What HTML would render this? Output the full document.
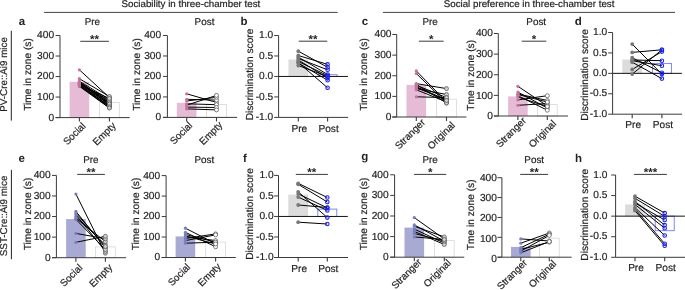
<!DOCTYPE html>
<html><head><meta charset="utf-8"><style>
html,body{margin:0;padding:0;background:#fff;}
svg{display:block;font-family:"Liberation Sans", sans-serif;will-change:transform;text-rendering:geometricPrecision;}
</style></head><body>
<svg width="685" height="290" viewBox="0 0 685 290">
<rect width="685" height="290" fill="#fff"/>
<line x1="44" y1="12.4" x2="337.7" y2="12.4" stroke="#444" stroke-width="1.0"/>
<line x1="382.9" y1="12.4" x2="675" y2="12.4" stroke="#444" stroke-width="1.0"/>
<text x="190.9" y="7.1" font-size="9.75" text-anchor="middle" font-weight="normal" fill="#231f20" stroke="#231f20" stroke-width="0.2">Sociability in three-chamber test</text>
<text x="529.1" y="7.1" font-size="9.75" text-anchor="middle" font-weight="normal" fill="#231f20" stroke="#231f20" stroke-width="0.2">Social preference in three-chamber test</text>
<text x="7.0" y="74.4" font-size="9.8" text-anchor="middle" font-weight="normal" fill="#231f20" stroke="#231f20" stroke-width="0.2" transform="rotate(-90 7.0 74.4)">PV-Cre::Ai9 mice</text>
<line x1="11.3" y1="30.8" x2="11.3" y2="120.6" stroke="#222" stroke-width="1.0"/>
<text x="7.0" y="215.9" font-size="9.8" text-anchor="middle" font-weight="normal" fill="#231f20" stroke="#231f20" stroke-width="0.2" transform="rotate(-90 7.0 215.9)">SST-Cre::Ai9 mice</text>
<line x1="11.4" y1="169.9" x2="11.4" y2="259.2" stroke="#222" stroke-width="1.0"/>
<text x="18.8" y="24.8" font-size="11.5" text-anchor="start" font-weight="bold" fill="#231f20" stroke="#231f20" stroke-width="0">a</text>
<text x="240.6" y="24.8" font-size="11.5" text-anchor="start" font-weight="bold" fill="#231f20" stroke="#231f20" stroke-width="0">b</text>
<text x="361.7" y="24.8" font-size="11.5" text-anchor="start" font-weight="bold" fill="#231f20" stroke="#231f20" stroke-width="0">c</text>
<text x="574.8" y="25" font-size="11.5" text-anchor="start" font-weight="bold" fill="#231f20" stroke="#231f20" stroke-width="0">d</text>
<text x="18.6" y="161.7" font-size="11.5" text-anchor="start" font-weight="bold" fill="#231f20" stroke="#231f20" stroke-width="0">e</text>
<text x="242.9" y="162.4" font-size="11.5" text-anchor="start" font-weight="bold" fill="#231f20" stroke="#231f20" stroke-width="0">f</text>
<text x="361.3" y="160.3" font-size="11.5" text-anchor="start" font-weight="bold" fill="#231f20" stroke="#231f20" stroke-width="0">g</text>
<text x="575" y="161.8" font-size="11.5" text-anchor="start" font-weight="bold" fill="#231f20" stroke="#231f20" stroke-width="0">h</text>
<rect x="69.60000000000001" y="81.8" width="19.6" height="35.8" fill="#e6bbd6" stroke="none" stroke-width="0.8"/>
<rect x="99.5" y="102.4" width="19.8" height="15.199999999999994" fill="none" stroke="#d8d8d8" stroke-width="0.8"/>
<line x1="60.0" y1="35.5" x2="60.0" y2="117.6" stroke="#3a3a3a" stroke-width="1.0"/>
<line x1="55.6" y1="117.6" x2="129.7" y2="117.6" stroke="#3a3a3a" stroke-width="1.0"/>
<line x1="55.6" y1="117.6" x2="60.0" y2="117.6" stroke="#3a3a3a" stroke-width="1.0"/>
<text x="54.1" y="120.5" font-size="10.2" text-anchor="end" font-weight="normal" fill="#231f20" stroke="#231f20" stroke-width="0.2">0</text>
<line x1="55.6" y1="97.07499999999999" x2="60.0" y2="97.07499999999999" stroke="#3a3a3a" stroke-width="1.0"/>
<text x="54.1" y="99.975" font-size="10.2" text-anchor="end" font-weight="normal" fill="#231f20" stroke="#231f20" stroke-width="0.2">100</text>
<line x1="55.6" y1="76.55" x2="60.0" y2="76.55" stroke="#3a3a3a" stroke-width="1.0"/>
<text x="54.1" y="79.45" font-size="10.2" text-anchor="end" font-weight="normal" fill="#231f20" stroke="#231f20" stroke-width="0.2">200</text>
<line x1="55.6" y1="56.025" x2="60.0" y2="56.025" stroke="#3a3a3a" stroke-width="1.0"/>
<text x="54.1" y="58.925" font-size="10.2" text-anchor="end" font-weight="normal" fill="#231f20" stroke="#231f20" stroke-width="0.2">300</text>
<line x1="55.6" y1="35.5" x2="60.0" y2="35.5" stroke="#3a3a3a" stroke-width="1.0"/>
<text x="54.1" y="38.4" font-size="10.2" text-anchor="end" font-weight="normal" fill="#231f20" stroke="#231f20" stroke-width="0.2">400</text>
<line x1="79.4" y1="117.6" x2="79.4" y2="121.6" stroke="#3a3a3a" stroke-width="1.1"/>
<line x1="109.4" y1="117.6" x2="109.4" y2="121.6" stroke="#3a3a3a" stroke-width="1.1"/>
<line x1="79.4" y1="69.8" x2="109.4" y2="97.5" stroke="#000" stroke-width="1.0"/>
<line x1="79.4" y1="78.7" x2="109.4" y2="96.5" stroke="#000" stroke-width="1.0"/>
<line x1="79.4" y1="81.2" x2="109.4" y2="99.5" stroke="#000" stroke-width="1.0"/>
<line x1="79.4" y1="81.8" x2="109.4" y2="103" stroke="#000" stroke-width="1.0"/>
<line x1="79.4" y1="82.4" x2="109.4" y2="101.5" stroke="#000" stroke-width="1.0"/>
<line x1="79.4" y1="83" x2="109.4" y2="105" stroke="#000" stroke-width="1.0"/>
<line x1="79.4" y1="83.6" x2="109.4" y2="102.5" stroke="#000" stroke-width="1.0"/>
<line x1="79.4" y1="84.2" x2="109.4" y2="106.5" stroke="#000" stroke-width="1.0"/>
<line x1="79.4" y1="84.8" x2="109.4" y2="104" stroke="#000" stroke-width="1.0"/>
<line x1="79.4" y1="85.4" x2="109.4" y2="107.8" stroke="#000" stroke-width="1.0"/>
<line x1="79.4" y1="86" x2="109.4" y2="105.5" stroke="#000" stroke-width="1.0"/>
<line x1="79.4" y1="83.2" x2="109.4" y2="100.5" stroke="#000" stroke-width="1.0"/>
<line x1="79.4" y1="82.2" x2="109.4" y2="104" stroke="#000" stroke-width="1.0"/>
<line x1="79.4" y1="84.6" x2="109.4" y2="98.5" stroke="#000" stroke-width="1.0"/>
<line x1="79.4" y1="85.8" x2="109.4" y2="106.8" stroke="#000" stroke-width="1.0"/>
<line x1="79.4" y1="86.4" x2="109.4" y2="108" stroke="#000" stroke-width="1.0"/>
<circle cx="79.4" cy="69.8" r="1.6" fill="#c2739f" stroke="none" stroke-width="0.7"/>
<circle cx="79.4" cy="78.7" r="1.6" fill="#c2739f" stroke="none" stroke-width="0.7"/>
<circle cx="79.4" cy="81.2" r="1.6" fill="#c2739f" stroke="none" stroke-width="0.7"/>
<circle cx="79.4" cy="81.8" r="1.6" fill="#c2739f" stroke="none" stroke-width="0.7"/>
<circle cx="79.4" cy="82.4" r="1.6" fill="#c2739f" stroke="none" stroke-width="0.7"/>
<circle cx="79.4" cy="83" r="1.6" fill="#c2739f" stroke="none" stroke-width="0.7"/>
<circle cx="79.4" cy="83.6" r="1.6" fill="#c2739f" stroke="none" stroke-width="0.7"/>
<circle cx="79.4" cy="84.2" r="1.6" fill="#c2739f" stroke="none" stroke-width="0.7"/>
<circle cx="79.4" cy="84.8" r="1.6" fill="#c2739f" stroke="none" stroke-width="0.7"/>
<circle cx="79.4" cy="85.4" r="1.6" fill="#c2739f" stroke="none" stroke-width="0.7"/>
<circle cx="79.4" cy="86" r="1.6" fill="#c2739f" stroke="none" stroke-width="0.7"/>
<circle cx="79.4" cy="83.2" r="1.6" fill="#c2739f" stroke="none" stroke-width="0.7"/>
<circle cx="79.4" cy="82.2" r="1.6" fill="#c2739f" stroke="none" stroke-width="0.7"/>
<circle cx="79.4" cy="84.6" r="1.6" fill="#c2739f" stroke="none" stroke-width="0.7"/>
<circle cx="79.4" cy="85.8" r="1.6" fill="#c2739f" stroke="none" stroke-width="0.7"/>
<circle cx="79.4" cy="86.4" r="1.6" fill="#c2739f" stroke="none" stroke-width="0.7"/>
<circle cx="109.4" cy="97.5" r="2.0" fill="#d0d0d0" stroke="#555" stroke-width="0.75"/>
<circle cx="109.4" cy="96.5" r="2.0" fill="#d0d0d0" stroke="#555" stroke-width="0.75"/>
<circle cx="109.4" cy="99.5" r="2.0" fill="#d0d0d0" stroke="#555" stroke-width="0.75"/>
<circle cx="109.4" cy="103" r="2.0" fill="#d0d0d0" stroke="#555" stroke-width="0.75"/>
<circle cx="109.4" cy="101.5" r="2.0" fill="#d0d0d0" stroke="#555" stroke-width="0.75"/>
<circle cx="109.4" cy="105" r="2.0" fill="#d0d0d0" stroke="#555" stroke-width="0.75"/>
<circle cx="109.4" cy="102.5" r="2.0" fill="#d0d0d0" stroke="#555" stroke-width="0.75"/>
<circle cx="109.4" cy="106.5" r="2.0" fill="#d0d0d0" stroke="#555" stroke-width="0.75"/>
<circle cx="109.4" cy="104" r="2.0" fill="#d0d0d0" stroke="#555" stroke-width="0.75"/>
<circle cx="109.4" cy="107.8" r="2.0" fill="#d0d0d0" stroke="#555" stroke-width="0.75"/>
<circle cx="109.4" cy="105.5" r="2.0" fill="#d0d0d0" stroke="#555" stroke-width="0.75"/>
<circle cx="109.4" cy="100.5" r="2.0" fill="#d0d0d0" stroke="#555" stroke-width="0.75"/>
<circle cx="109.4" cy="104" r="2.0" fill="#d0d0d0" stroke="#555" stroke-width="0.75"/>
<circle cx="109.4" cy="98.5" r="2.0" fill="#d0d0d0" stroke="#555" stroke-width="0.75"/>
<circle cx="109.4" cy="106.8" r="2.0" fill="#d0d0d0" stroke="#555" stroke-width="0.75"/>
<circle cx="109.4" cy="108" r="2.0" fill="#d0d0d0" stroke="#555" stroke-width="0.75"/>
<text x="76.7" y="136.1" font-size="9.9" text-anchor="middle" font-weight="normal" fill="#231f20" stroke="#231f20" stroke-width="0.2" transform="rotate(-45 76.7 136.1)">Social</text>
<text x="106.7" y="136.1" font-size="9.9" text-anchor="middle" font-weight="normal" fill="#231f20" stroke="#231f20" stroke-width="0.2" transform="rotate(-45 106.7 136.1)">Empty</text>
<text x="92.4" y="25" font-size="9.9" text-anchor="middle" font-weight="normal" fill="#231f20" stroke="#231f20" stroke-width="0.2">Pre</text>
<line x1="80.3" y1="41.3" x2="108.9" y2="41.3" stroke="#3a3a3a" stroke-width="1.0"/>
<text x="94.6" y="42.9" font-size="11.5" text-anchor="middle" font-weight="bold" fill="#231f20" stroke="#231f20" stroke-width="0">**</text>
<text x="31.2" y="74.5" font-size="10.2" text-anchor="middle" font-weight="normal" fill="#231f20" stroke="#231f20" stroke-width="0.2" transform="rotate(-90 31.2 74.5)">Time in zone (s)</text>
<rect x="176.89999999999998" y="102.9" width="19.6" height="14.5" fill="#e6bbd6" stroke="none" stroke-width="0.8"/>
<rect x="206.6" y="104.4" width="19.8" height="13.000000000000005" fill="none" stroke="#d8d8d8" stroke-width="0.8"/>
<line x1="167.4" y1="35.5" x2="167.4" y2="117.4" stroke="#3a3a3a" stroke-width="1.0"/>
<line x1="163.0" y1="117.4" x2="237.10000000000002" y2="117.4" stroke="#3a3a3a" stroke-width="1.0"/>
<line x1="163.0" y1="117.4" x2="167.4" y2="117.4" stroke="#3a3a3a" stroke-width="1.0"/>
<text x="161.20000000000002" y="120.30000000000001" font-size="10.2" text-anchor="end" font-weight="normal" fill="#231f20" stroke="#231f20" stroke-width="0.2">0</text>
<line x1="163.0" y1="96.92500000000001" x2="167.4" y2="96.92500000000001" stroke="#3a3a3a" stroke-width="1.0"/>
<text x="161.20000000000002" y="99.82500000000002" font-size="10.2" text-anchor="end" font-weight="normal" fill="#231f20" stroke="#231f20" stroke-width="0.2">100</text>
<line x1="163.0" y1="76.45" x2="167.4" y2="76.45" stroke="#3a3a3a" stroke-width="1.0"/>
<text x="161.20000000000002" y="79.35000000000001" font-size="10.2" text-anchor="end" font-weight="normal" fill="#231f20" stroke="#231f20" stroke-width="0.2">200</text>
<line x1="163.0" y1="55.975" x2="167.4" y2="55.975" stroke="#3a3a3a" stroke-width="1.0"/>
<text x="161.20000000000002" y="58.875" font-size="10.2" text-anchor="end" font-weight="normal" fill="#231f20" stroke="#231f20" stroke-width="0.2">300</text>
<line x1="163.0" y1="35.5" x2="167.4" y2="35.5" stroke="#3a3a3a" stroke-width="1.0"/>
<text x="161.20000000000002" y="38.4" font-size="10.2" text-anchor="end" font-weight="normal" fill="#231f20" stroke="#231f20" stroke-width="0.2">400</text>
<line x1="186.7" y1="117.4" x2="186.7" y2="121.4" stroke="#3a3a3a" stroke-width="1.1"/>
<line x1="216.5" y1="117.4" x2="216.5" y2="121.4" stroke="#3a3a3a" stroke-width="1.1"/>
<line x1="186.7" y1="93.8" x2="216.5" y2="102.4" stroke="#000" stroke-width="1.0"/>
<line x1="186.7" y1="99.3" x2="216.5" y2="100.1" stroke="#000" stroke-width="1.0"/>
<line x1="186.7" y1="101" x2="216.5" y2="97.3" stroke="#000" stroke-width="1.0"/>
<line x1="186.7" y1="103.8" x2="216.5" y2="104.7" stroke="#000" stroke-width="1.0"/>
<line x1="186.7" y1="105.2" x2="216.5" y2="95.4" stroke="#000" stroke-width="1.0"/>
<line x1="186.7" y1="107.1" x2="216.5" y2="107.5" stroke="#000" stroke-width="1.0"/>
<line x1="186.7" y1="108.9" x2="216.5" y2="109.9" stroke="#000" stroke-width="1.0"/>
<circle cx="186.7" cy="93.8" r="1.6" fill="#c2739f" stroke="none" stroke-width="0.7"/>
<circle cx="186.7" cy="99.3" r="1.6" fill="#c2739f" stroke="none" stroke-width="0.7"/>
<circle cx="186.7" cy="101" r="1.6" fill="#c2739f" stroke="none" stroke-width="0.7"/>
<circle cx="186.7" cy="103.8" r="1.6" fill="#c2739f" stroke="none" stroke-width="0.7"/>
<circle cx="186.7" cy="105.2" r="1.6" fill="#c2739f" stroke="none" stroke-width="0.7"/>
<circle cx="186.7" cy="107.1" r="1.6" fill="#c2739f" stroke="none" stroke-width="0.7"/>
<circle cx="186.7" cy="108.9" r="1.6" fill="#c2739f" stroke="none" stroke-width="0.7"/>
<circle cx="216.5" cy="102.4" r="2.0" fill="#fff" stroke="#555" stroke-width="0.75"/>
<circle cx="216.5" cy="100.1" r="2.0" fill="#fff" stroke="#555" stroke-width="0.75"/>
<circle cx="216.5" cy="97.3" r="2.0" fill="#fff" stroke="#555" stroke-width="0.75"/>
<circle cx="216.5" cy="104.7" r="2.0" fill="#fff" stroke="#555" stroke-width="0.75"/>
<circle cx="216.5" cy="95.4" r="2.0" fill="#fff" stroke="#555" stroke-width="0.75"/>
<circle cx="216.5" cy="107.5" r="2.0" fill="#fff" stroke="#555" stroke-width="0.75"/>
<circle cx="216.5" cy="109.9" r="2.0" fill="#fff" stroke="#555" stroke-width="0.75"/>
<text x="183.4" y="135.5" font-size="9.9" text-anchor="middle" font-weight="normal" fill="#231f20" stroke="#231f20" stroke-width="0.2" transform="rotate(-45 183.4 135.5)">Social</text>
<text x="213.2" y="135.5" font-size="9.9" text-anchor="middle" font-weight="normal" fill="#231f20" stroke="#231f20" stroke-width="0.2" transform="rotate(-45 213.2 135.5)">Empty</text>
<text x="204.5" y="25" font-size="9.9" text-anchor="middle" font-weight="normal" fill="#231f20" stroke="#231f20" stroke-width="0.2">Post</text>
<text x="139.5" y="74.5" font-size="10.2" text-anchor="middle" font-weight="normal" fill="#231f20" stroke="#231f20" stroke-width="0.2" transform="rotate(-90 139.5 74.5)">Time in zone (s)</text>
<rect x="288.40000000000003" y="59.5" width="19.8" height="16.950000000000003" fill="#dcdcdc" stroke="none" stroke-width="0.8"/>
<rect x="318.1" y="74.7" width="19.0" height="1.75" fill="none" stroke="#6f7cf0" stroke-width="0.9"/>
<line x1="278.6" y1="35.5" x2="278.6" y2="117.4" stroke="#3a3a3a" stroke-width="1.0"/>
<line x1="278.6" y1="117.4" x2="348.1" y2="117.4" stroke="#3a3a3a" stroke-width="1.0"/>
<line x1="278.6" y1="76.45" x2="347.90000000000003" y2="76.45" stroke="#111" stroke-width="1.0"/>
<line x1="274.20000000000005" y1="35.5" x2="278.6" y2="35.5" stroke="#3a3a3a" stroke-width="1.0"/>
<text x="273.2" y="38.1" font-size="10.2" text-anchor="end" font-weight="normal" fill="#231f20" stroke="#231f20" stroke-width="0.2">1.0</text>
<line x1="274.20000000000005" y1="55.975" x2="278.6" y2="55.975" stroke="#3a3a3a" stroke-width="1.0"/>
<text x="273.2" y="58.575" font-size="10.2" text-anchor="end" font-weight="normal" fill="#231f20" stroke="#231f20" stroke-width="0.2">0.5</text>
<line x1="274.20000000000005" y1="76.45" x2="278.6" y2="76.45" stroke="#3a3a3a" stroke-width="1.0"/>
<text x="273.2" y="79.05" font-size="10.2" text-anchor="end" font-weight="normal" fill="#231f20" stroke="#231f20" stroke-width="0.2">0.0</text>
<line x1="274.20000000000005" y1="96.92500000000001" x2="278.6" y2="96.92500000000001" stroke="#3a3a3a" stroke-width="1.0"/>
<text x="273.2" y="99.525" font-size="10.2" text-anchor="end" font-weight="normal" fill="#231f20" stroke="#231f20" stroke-width="0.2">-0.5</text>
<line x1="274.20000000000005" y1="117.4" x2="278.6" y2="117.4" stroke="#3a3a3a" stroke-width="1.0"/>
<text x="273.2" y="120.0" font-size="10.2" text-anchor="end" font-weight="normal" fill="#231f20" stroke="#231f20" stroke-width="0.2">-1.0</text>
<line x1="298.3" y1="117.4" x2="298.3" y2="121.4" stroke="#3a3a3a" stroke-width="1.1"/>
<line x1="327.6" y1="117.4" x2="327.6" y2="121.4" stroke="#3a3a3a" stroke-width="1.1"/>
<line x1="298.3" y1="51.2" x2="327.6" y2="67.3" stroke="#000" stroke-width="1.0"/>
<line x1="298.3" y1="55.5" x2="327.6" y2="64.4" stroke="#000" stroke-width="1.0"/>
<line x1="298.3" y1="57" x2="327.6" y2="74.5" stroke="#000" stroke-width="1.0"/>
<line x1="298.3" y1="58.5" x2="327.6" y2="69.8" stroke="#000" stroke-width="1.0"/>
<line x1="298.3" y1="60" x2="327.6" y2="78.1" stroke="#000" stroke-width="1.0"/>
<line x1="298.3" y1="61.5" x2="327.6" y2="75.6" stroke="#000" stroke-width="1.0"/>
<line x1="298.3" y1="63" x2="327.6" y2="80.2" stroke="#000" stroke-width="1.0"/>
<line x1="298.3" y1="62.5" x2="327.6" y2="87.8" stroke="#000" stroke-width="1.0"/>
<line x1="298.3" y1="65.5" x2="327.6" y2="76.5" stroke="#000" stroke-width="1.0"/>
<circle cx="298.3" cy="51.2" r="1.9" fill="#777777" stroke="none" stroke-width="0.7"/>
<circle cx="298.3" cy="55.5" r="1.9" fill="#777777" stroke="none" stroke-width="0.7"/>
<circle cx="298.3" cy="57" r="1.9" fill="#777777" stroke="none" stroke-width="0.7"/>
<circle cx="298.3" cy="58.5" r="1.9" fill="#777777" stroke="none" stroke-width="0.7"/>
<circle cx="298.3" cy="60" r="1.9" fill="#777777" stroke="none" stroke-width="0.7"/>
<circle cx="298.3" cy="61.5" r="1.9" fill="#777777" stroke="none" stroke-width="0.7"/>
<circle cx="298.3" cy="63" r="1.9" fill="#777777" stroke="none" stroke-width="0.7"/>
<circle cx="298.3" cy="62.5" r="1.9" fill="#777777" stroke="none" stroke-width="0.7"/>
<circle cx="298.3" cy="65.5" r="1.9" fill="#777777" stroke="none" stroke-width="0.7"/>
<circle cx="327.6" cy="67.3" r="1.75" fill="none" stroke="#1c20f2" stroke-width="1.1"/>
<circle cx="327.6" cy="64.4" r="1.75" fill="none" stroke="#1c20f2" stroke-width="1.1"/>
<circle cx="327.6" cy="74.5" r="1.75" fill="none" stroke="#1c20f2" stroke-width="1.1"/>
<circle cx="327.6" cy="69.8" r="1.75" fill="none" stroke="#1c20f2" stroke-width="1.1"/>
<circle cx="327.6" cy="78.1" r="1.75" fill="none" stroke="#1c20f2" stroke-width="1.1"/>
<circle cx="327.6" cy="75.6" r="1.75" fill="none" stroke="#1c20f2" stroke-width="1.1"/>
<circle cx="327.6" cy="80.2" r="1.75" fill="none" stroke="#1c20f2" stroke-width="1.1"/>
<circle cx="327.6" cy="87.8" r="1.75" fill="none" stroke="#1c20f2" stroke-width="1.1"/>
<circle cx="327.6" cy="76.5" r="1.75" fill="none" stroke="#1c20f2" stroke-width="1.1"/>
<text x="299.3" y="131.5" font-size="10.1" text-anchor="middle" font-weight="normal" fill="#231f20" stroke="#231f20" stroke-width="0.2">Pre</text>
<text x="328.6" y="131.5" font-size="10.1" text-anchor="middle" font-weight="normal" fill="#231f20" stroke="#231f20" stroke-width="0.2">Post</text>
<line x1="298.8" y1="41.2" x2="327.3" y2="41.2" stroke="#3a3a3a" stroke-width="1.0"/>
<text x="313.05" y="42.800000000000004" font-size="11.5" text-anchor="middle" font-weight="bold" fill="#231f20" stroke="#231f20" stroke-width="0">**</text>
<text x="253.0" y="74.5" font-size="10.2" text-anchor="middle" font-weight="normal" fill="#231f20" stroke="#231f20" stroke-width="0.2" transform="rotate(-90 253.0 74.5)">Discrimination score</text>
<rect x="406.5" y="84.9" width="19.6" height="32.099999999999994" fill="#e6bbd6" stroke="none" stroke-width="0.8"/>
<rect x="436.6" y="99.2" width="19.8" height="17.800000000000004" fill="none" stroke="#d8d8d8" stroke-width="0.8"/>
<line x1="396.7" y1="34.5" x2="396.7" y2="117.0" stroke="#3a3a3a" stroke-width="1.0"/>
<line x1="392.3" y1="117.0" x2="466.4" y2="117.0" stroke="#3a3a3a" stroke-width="1.0"/>
<line x1="392.3" y1="117.0" x2="396.7" y2="117.0" stroke="#3a3a3a" stroke-width="1.0"/>
<text x="391.49999999999994" y="119.9" font-size="10.2" text-anchor="end" font-weight="normal" fill="#231f20" stroke="#231f20" stroke-width="0.2">0</text>
<line x1="392.3" y1="96.375" x2="396.7" y2="96.375" stroke="#3a3a3a" stroke-width="1.0"/>
<text x="391.49999999999994" y="99.275" font-size="10.2" text-anchor="end" font-weight="normal" fill="#231f20" stroke="#231f20" stroke-width="0.2">100</text>
<line x1="392.3" y1="75.75" x2="396.7" y2="75.75" stroke="#3a3a3a" stroke-width="1.0"/>
<text x="391.49999999999994" y="78.65" font-size="10.2" text-anchor="end" font-weight="normal" fill="#231f20" stroke="#231f20" stroke-width="0.2">200</text>
<line x1="392.3" y1="55.125" x2="396.7" y2="55.125" stroke="#3a3a3a" stroke-width="1.0"/>
<text x="391.49999999999994" y="58.025" font-size="10.2" text-anchor="end" font-weight="normal" fill="#231f20" stroke="#231f20" stroke-width="0.2">300</text>
<line x1="392.3" y1="34.5" x2="396.7" y2="34.5" stroke="#3a3a3a" stroke-width="1.0"/>
<text x="391.49999999999994" y="37.4" font-size="10.2" text-anchor="end" font-weight="normal" fill="#231f20" stroke="#231f20" stroke-width="0.2">400</text>
<line x1="416.3" y1="117.0" x2="416.3" y2="121.0" stroke="#3a3a3a" stroke-width="1.1"/>
<line x1="446.5" y1="117.0" x2="446.5" y2="121.0" stroke="#3a3a3a" stroke-width="1.1"/>
<line x1="416.3" y1="70.9" x2="446.5" y2="101.9" stroke="#000" stroke-width="1.0"/>
<line x1="416.3" y1="73.5" x2="446.5" y2="103" stroke="#000" stroke-width="1.0"/>
<line x1="416.3" y1="83.6" x2="446.5" y2="88.6" stroke="#000" stroke-width="1.0"/>
<line x1="416.3" y1="85.2" x2="446.5" y2="97.6" stroke="#000" stroke-width="1.0"/>
<line x1="416.3" y1="86.7" x2="446.5" y2="99.9" stroke="#000" stroke-width="1.0"/>
<line x1="416.3" y1="88.6" x2="446.5" y2="94.5" stroke="#000" stroke-width="1.0"/>
<line x1="416.3" y1="89.8" x2="446.5" y2="101.9" stroke="#000" stroke-width="1.0"/>
<line x1="416.3" y1="96.8" x2="446.5" y2="97.6" stroke="#000" stroke-width="1.0"/>
<line x1="416.3" y1="84.5" x2="446.5" y2="103" stroke="#000" stroke-width="1.0"/>
<line x1="416.3" y1="87.5" x2="446.5" y2="100.5" stroke="#000" stroke-width="1.0"/>
<circle cx="416.3" cy="70.9" r="1.6" fill="#c2739f" stroke="none" stroke-width="0.7"/>
<circle cx="416.3" cy="73.5" r="1.6" fill="#c2739f" stroke="none" stroke-width="0.7"/>
<circle cx="416.3" cy="83.6" r="1.6" fill="#c2739f" stroke="none" stroke-width="0.7"/>
<circle cx="416.3" cy="85.2" r="1.6" fill="#c2739f" stroke="none" stroke-width="0.7"/>
<circle cx="416.3" cy="86.7" r="1.6" fill="#c2739f" stroke="none" stroke-width="0.7"/>
<circle cx="416.3" cy="88.6" r="1.6" fill="#c2739f" stroke="none" stroke-width="0.7"/>
<circle cx="416.3" cy="89.8" r="1.6" fill="#c2739f" stroke="none" stroke-width="0.7"/>
<circle cx="416.3" cy="96.8" r="1.6" fill="#c2739f" stroke="none" stroke-width="0.7"/>
<circle cx="416.3" cy="84.5" r="1.6" fill="#c2739f" stroke="none" stroke-width="0.7"/>
<circle cx="416.3" cy="87.5" r="1.6" fill="#c2739f" stroke="none" stroke-width="0.7"/>
<circle cx="446.5" cy="101.9" r="2.0" fill="#d0d0d0" stroke="#555" stroke-width="0.75"/>
<circle cx="446.5" cy="103" r="2.0" fill="#d0d0d0" stroke="#555" stroke-width="0.75"/>
<circle cx="446.5" cy="88.6" r="2.0" fill="#d0d0d0" stroke="#555" stroke-width="0.75"/>
<circle cx="446.5" cy="97.6" r="2.0" fill="#d0d0d0" stroke="#555" stroke-width="0.75"/>
<circle cx="446.5" cy="99.9" r="2.0" fill="#d0d0d0" stroke="#555" stroke-width="0.75"/>
<circle cx="446.5" cy="94.5" r="2.0" fill="#d0d0d0" stroke="#555" stroke-width="0.75"/>
<circle cx="446.5" cy="101.9" r="2.0" fill="#d0d0d0" stroke="#555" stroke-width="0.75"/>
<circle cx="446.5" cy="97.6" r="2.0" fill="#d0d0d0" stroke="#555" stroke-width="0.75"/>
<circle cx="446.5" cy="103" r="2.0" fill="#d0d0d0" stroke="#555" stroke-width="0.75"/>
<circle cx="446.5" cy="100.5" r="2.0" fill="#d0d0d0" stroke="#555" stroke-width="0.75"/>
<text x="412.4" y="136.4" font-size="9.9" text-anchor="middle" font-weight="normal" fill="#231f20" stroke="#231f20" stroke-width="0.2" transform="rotate(-45 412.4 136.4)">Stranger</text>
<text x="443.6" y="137.9" font-size="9.9" text-anchor="middle" font-weight="normal" fill="#231f20" stroke="#231f20" stroke-width="0.2" transform="rotate(-45 443.6 137.9)">Original</text>
<text x="430.1" y="25" font-size="9.9" text-anchor="middle" font-weight="normal" fill="#231f20" stroke="#231f20" stroke-width="0.2">Pre</text>
<line x1="418.9" y1="41.2" x2="443.6" y2="41.2" stroke="#3a3a3a" stroke-width="1.0"/>
<text x="431.25" y="42.800000000000004" font-size="11.5" text-anchor="middle" font-weight="bold" fill="#231f20" stroke="#231f20" stroke-width="0">*</text>
<text x="366.5" y="74.5" font-size="10.2" text-anchor="middle" font-weight="normal" fill="#231f20" stroke="#231f20" stroke-width="0.2" transform="rotate(-90 366.5 74.5)">Time in zone (s)</text>
<rect x="508.09999999999997" y="96.4" width="19.6" height="19.599999999999994" fill="#e6bbd6" stroke="none" stroke-width="0.8"/>
<rect x="537.4" y="104.60000000000001" width="19.8" height="11.399999999999997" fill="none" stroke="#d8d8d8" stroke-width="0.8"/>
<line x1="498.3" y1="33.5" x2="498.3" y2="116.0" stroke="#3a3a3a" stroke-width="1.0"/>
<line x1="493.90000000000003" y1="116.0" x2="568.0" y2="116.0" stroke="#3a3a3a" stroke-width="1.0"/>
<line x1="493.90000000000003" y1="116.0" x2="498.3" y2="116.0" stroke="#3a3a3a" stroke-width="1.0"/>
<text x="492.9" y="119.30000000000001" font-size="10.2" text-anchor="end" font-weight="normal" fill="#231f20" stroke="#231f20" stroke-width="0.2">0</text>
<line x1="493.90000000000003" y1="95.375" x2="498.3" y2="95.375" stroke="#3a3a3a" stroke-width="1.0"/>
<text x="492.9" y="98.57500000000002" font-size="10.2" text-anchor="end" font-weight="normal" fill="#231f20" stroke="#231f20" stroke-width="0.2">100</text>
<line x1="493.90000000000003" y1="74.75" x2="498.3" y2="74.75" stroke="#3a3a3a" stroke-width="1.0"/>
<text x="492.9" y="77.85000000000001" font-size="10.2" text-anchor="end" font-weight="normal" fill="#231f20" stroke="#231f20" stroke-width="0.2">200</text>
<line x1="493.90000000000003" y1="54.125" x2="498.3" y2="54.125" stroke="#3a3a3a" stroke-width="1.0"/>
<text x="492.9" y="57.125" font-size="10.2" text-anchor="end" font-weight="normal" fill="#231f20" stroke="#231f20" stroke-width="0.2">300</text>
<line x1="493.90000000000003" y1="33.5" x2="498.3" y2="33.5" stroke="#3a3a3a" stroke-width="1.0"/>
<text x="492.9" y="36.4" font-size="10.2" text-anchor="end" font-weight="normal" fill="#231f20" stroke="#231f20" stroke-width="0.2">400</text>
<line x1="517.9" y1="116.0" x2="517.9" y2="120.0" stroke="#3a3a3a" stroke-width="1.1"/>
<line x1="547.3" y1="116.0" x2="547.3" y2="120.0" stroke="#3a3a3a" stroke-width="1.1"/>
<line x1="517.9" y1="86.3" x2="547.3" y2="105.9" stroke="#000" stroke-width="1.0"/>
<line x1="517.9" y1="92.1" x2="547.3" y2="108" stroke="#000" stroke-width="1.0"/>
<line x1="517.9" y1="93.9" x2="547.3" y2="100.5" stroke="#000" stroke-width="1.0"/>
<line x1="517.9" y1="95.7" x2="547.3" y2="110.2" stroke="#000" stroke-width="1.0"/>
<line x1="517.9" y1="99.9" x2="547.3" y2="95.7" stroke="#000" stroke-width="1.0"/>
<line x1="517.9" y1="105.3" x2="547.3" y2="103.5" stroke="#000" stroke-width="1.0"/>
<line x1="517.9" y1="97" x2="547.3" y2="106.5" stroke="#000" stroke-width="1.0"/>
<line x1="517.9" y1="94.5" x2="547.3" y2="102" stroke="#000" stroke-width="1.0"/>
<circle cx="517.9" cy="86.3" r="1.6" fill="#c2739f" stroke="none" stroke-width="0.7"/>
<circle cx="517.9" cy="92.1" r="1.6" fill="#c2739f" stroke="none" stroke-width="0.7"/>
<circle cx="517.9" cy="93.9" r="1.6" fill="#c2739f" stroke="none" stroke-width="0.7"/>
<circle cx="517.9" cy="95.7" r="1.6" fill="#c2739f" stroke="none" stroke-width="0.7"/>
<circle cx="517.9" cy="99.9" r="1.6" fill="#c2739f" stroke="none" stroke-width="0.7"/>
<circle cx="517.9" cy="105.3" r="1.6" fill="#c2739f" stroke="none" stroke-width="0.7"/>
<circle cx="517.9" cy="97" r="1.6" fill="#c2739f" stroke="none" stroke-width="0.7"/>
<circle cx="517.9" cy="94.5" r="1.6" fill="#c2739f" stroke="none" stroke-width="0.7"/>
<circle cx="547.3" cy="105.9" r="2.0" fill="#fff" stroke="#555" stroke-width="0.75"/>
<circle cx="547.3" cy="108" r="2.0" fill="#fff" stroke="#555" stroke-width="0.75"/>
<circle cx="547.3" cy="100.5" r="2.0" fill="#fff" stroke="#555" stroke-width="0.75"/>
<circle cx="547.3" cy="110.2" r="2.0" fill="#fff" stroke="#555" stroke-width="0.75"/>
<circle cx="547.3" cy="95.7" r="2.0" fill="#fff" stroke="#555" stroke-width="0.75"/>
<circle cx="547.3" cy="103.5" r="2.0" fill="#fff" stroke="#555" stroke-width="0.75"/>
<circle cx="547.3" cy="106.5" r="2.0" fill="#fff" stroke="#555" stroke-width="0.75"/>
<circle cx="547.3" cy="102" r="2.0" fill="#fff" stroke="#555" stroke-width="0.75"/>
<text x="513.4" y="134.6" font-size="9.9" text-anchor="middle" font-weight="normal" fill="#231f20" stroke="#231f20" stroke-width="0.2" transform="rotate(-45 513.4 134.6)">Stranger</text>
<text x="544.7" y="136.3" font-size="9.9" text-anchor="middle" font-weight="normal" fill="#231f20" stroke="#231f20" stroke-width="0.2" transform="rotate(-45 544.7 136.3)">Original</text>
<text x="536.2" y="25" font-size="9.9" text-anchor="middle" font-weight="normal" fill="#231f20" stroke="#231f20" stroke-width="0.2">Post</text>
<line x1="521.7" y1="41.2" x2="546.3" y2="41.2" stroke="#3a3a3a" stroke-width="1.0"/>
<text x="534.0" y="42.800000000000004" font-size="11.5" text-anchor="middle" font-weight="bold" fill="#231f20" stroke="#231f20" stroke-width="0">*</text>
<text x="474.0" y="75.3" font-size="10.2" text-anchor="middle" font-weight="normal" fill="#231f20" stroke="#231f20" stroke-width="0.2" transform="rotate(-90 474.0 75.3)">Tme in zone (s)</text>
<rect x="622.3000000000001" y="59.5" width="19.8" height="13.849999999999994" fill="#dcdcdc" stroke="none" stroke-width="0.8"/>
<rect x="652.4" y="63.4" width="19.0" height="9.949999999999996" fill="none" stroke="#6f7cf0" stroke-width="0.9"/>
<line x1="612.6" y1="32.5" x2="612.6" y2="114.2" stroke="#3a3a3a" stroke-width="1.0"/>
<line x1="612.6" y1="114.2" x2="682.1" y2="114.2" stroke="#3a3a3a" stroke-width="1.0"/>
<line x1="612.6" y1="73.35" x2="681.9" y2="73.35" stroke="#111" stroke-width="1.0"/>
<line x1="608.2" y1="32.5" x2="612.6" y2="32.5" stroke="#3a3a3a" stroke-width="1.0"/>
<text x="607.2" y="35.1" font-size="10.2" text-anchor="end" font-weight="normal" fill="#231f20" stroke="#231f20" stroke-width="0.2">1.0</text>
<line x1="608.2" y1="52.925" x2="612.6" y2="52.925" stroke="#3a3a3a" stroke-width="1.0"/>
<text x="607.2" y="55.525" font-size="10.2" text-anchor="end" font-weight="normal" fill="#231f20" stroke="#231f20" stroke-width="0.2">0.5</text>
<line x1="608.2" y1="73.35" x2="612.6" y2="73.35" stroke="#3a3a3a" stroke-width="1.0"/>
<text x="607.2" y="75.94999999999999" font-size="10.2" text-anchor="end" font-weight="normal" fill="#231f20" stroke="#231f20" stroke-width="0.2">0.0</text>
<line x1="608.2" y1="93.775" x2="612.6" y2="93.775" stroke="#3a3a3a" stroke-width="1.0"/>
<text x="607.2" y="96.375" font-size="10.2" text-anchor="end" font-weight="normal" fill="#231f20" stroke="#231f20" stroke-width="0.2">-0.5</text>
<line x1="608.2" y1="114.2" x2="612.6" y2="114.2" stroke="#3a3a3a" stroke-width="1.0"/>
<text x="607.2" y="116.8" font-size="10.2" text-anchor="end" font-weight="normal" fill="#231f20" stroke="#231f20" stroke-width="0.2">-1.0</text>
<line x1="632.2" y1="114.2" x2="632.2" y2="118.2" stroke="#3a3a3a" stroke-width="1.1"/>
<line x1="661.9" y1="114.2" x2="661.9" y2="118.2" stroke="#3a3a3a" stroke-width="1.1"/>
<line x1="632.2" y1="44.1" x2="661.9" y2="74.1" stroke="#000" stroke-width="1.0"/>
<line x1="632.2" y1="52.4" x2="661.9" y2="49.8" stroke="#000" stroke-width="1.0"/>
<line x1="632.2" y1="57.7" x2="661.9" y2="72.8" stroke="#000" stroke-width="1.0"/>
<line x1="632.2" y1="60.7" x2="661.9" y2="65.7" stroke="#000" stroke-width="1.0"/>
<line x1="632.2" y1="62.2" x2="661.9" y2="78.6" stroke="#000" stroke-width="1.0"/>
<line x1="632.2" y1="69.5" x2="661.9" y2="51.6" stroke="#000" stroke-width="1.0"/>
<line x1="632.2" y1="74.1" x2="661.9" y2="49.8" stroke="#000" stroke-width="1.0"/>
<line x1="632.2" y1="60" x2="661.9" y2="60.7" stroke="#000" stroke-width="1.0"/>
<circle cx="632.2" cy="44.1" r="1.9" fill="#777777" stroke="none" stroke-width="0.7"/>
<circle cx="632.2" cy="52.4" r="1.9" fill="#777777" stroke="none" stroke-width="0.7"/>
<circle cx="632.2" cy="57.7" r="1.9" fill="#777777" stroke="none" stroke-width="0.7"/>
<circle cx="632.2" cy="60.7" r="1.9" fill="#777777" stroke="none" stroke-width="0.7"/>
<circle cx="632.2" cy="62.2" r="1.9" fill="#777777" stroke="none" stroke-width="0.7"/>
<circle cx="632.2" cy="69.5" r="1.9" fill="#777777" stroke="none" stroke-width="0.7"/>
<circle cx="632.2" cy="74.1" r="1.9" fill="#777777" stroke="none" stroke-width="0.7"/>
<circle cx="632.2" cy="60" r="1.9" fill="#777777" stroke="none" stroke-width="0.7"/>
<circle cx="661.9" cy="74.1" r="1.75" fill="none" stroke="#1c20f2" stroke-width="1.1"/>
<circle cx="661.9" cy="49.8" r="1.75" fill="none" stroke="#1c20f2" stroke-width="1.1"/>
<circle cx="661.9" cy="72.8" r="1.75" fill="none" stroke="#1c20f2" stroke-width="1.1"/>
<circle cx="661.9" cy="65.7" r="1.75" fill="none" stroke="#1c20f2" stroke-width="1.1"/>
<circle cx="661.9" cy="78.6" r="1.75" fill="none" stroke="#1c20f2" stroke-width="1.1"/>
<circle cx="661.9" cy="51.6" r="1.75" fill="none" stroke="#1c20f2" stroke-width="1.1"/>
<circle cx="661.9" cy="49.8" r="1.75" fill="none" stroke="#1c20f2" stroke-width="1.1"/>
<circle cx="661.9" cy="60.7" r="1.75" fill="none" stroke="#1c20f2" stroke-width="1.1"/>
<text x="633.2" y="128.3" font-size="10.1" text-anchor="middle" font-weight="normal" fill="#231f20" stroke="#231f20" stroke-width="0.2">Pre</text>
<text x="662.9" y="128.3" font-size="10.1" text-anchor="middle" font-weight="normal" fill="#231f20" stroke="#231f20" stroke-width="0.2">Post</text>
<text x="587.6" y="75" font-size="10.2" text-anchor="middle" font-weight="normal" fill="#231f20" stroke="#231f20" stroke-width="0.2" transform="rotate(-90 587.6 75)">Discrimination score</text>
<rect x="66.10000000000001" y="219.1" width="19.6" height="38.599999999999994" fill="#a8aad4" stroke="none" stroke-width="0.8"/>
<rect x="95.5" y="246.9" width="19.8" height="10.799999999999988" fill="none" stroke="#d8d8d8" stroke-width="0.8"/>
<line x1="56.4" y1="175.4" x2="56.4" y2="257.7" stroke="#3a3a3a" stroke-width="1.0"/>
<line x1="52.0" y1="257.7" x2="126.1" y2="257.7" stroke="#3a3a3a" stroke-width="1.0"/>
<line x1="52.0" y1="257.7" x2="56.4" y2="257.7" stroke="#3a3a3a" stroke-width="1.0"/>
<text x="50.699999999999996" y="260.59999999999997" font-size="10.2" text-anchor="end" font-weight="normal" fill="#231f20" stroke="#231f20" stroke-width="0.2">0</text>
<line x1="52.0" y1="237.125" x2="56.4" y2="237.125" stroke="#3a3a3a" stroke-width="1.0"/>
<text x="50.699999999999996" y="240.025" font-size="10.2" text-anchor="end" font-weight="normal" fill="#231f20" stroke="#231f20" stroke-width="0.2">100</text>
<line x1="52.0" y1="216.55" x2="56.4" y2="216.55" stroke="#3a3a3a" stroke-width="1.0"/>
<text x="50.699999999999996" y="219.45000000000002" font-size="10.2" text-anchor="end" font-weight="normal" fill="#231f20" stroke="#231f20" stroke-width="0.2">200</text>
<line x1="52.0" y1="195.975" x2="56.4" y2="195.975" stroke="#3a3a3a" stroke-width="1.0"/>
<text x="50.699999999999996" y="198.875" font-size="10.2" text-anchor="end" font-weight="normal" fill="#231f20" stroke="#231f20" stroke-width="0.2">300</text>
<line x1="52.0" y1="175.4" x2="56.4" y2="175.4" stroke="#3a3a3a" stroke-width="1.0"/>
<text x="50.699999999999996" y="178.3" font-size="10.2" text-anchor="end" font-weight="normal" fill="#231f20" stroke="#231f20" stroke-width="0.2">400</text>
<line x1="75.9" y1="257.7" x2="75.9" y2="261.7" stroke="#3a3a3a" stroke-width="1.1"/>
<line x1="105.4" y1="257.7" x2="105.4" y2="261.7" stroke="#3a3a3a" stroke-width="1.1"/>
<line x1="75.9" y1="194" x2="105.4" y2="253.2" stroke="#000" stroke-width="1.0"/>
<line x1="75.9" y1="211.4" x2="105.4" y2="247.9" stroke="#000" stroke-width="1.0"/>
<line x1="75.9" y1="214.6" x2="105.4" y2="251.3" stroke="#000" stroke-width="1.0"/>
<line x1="75.9" y1="216.5" x2="105.4" y2="244.8" stroke="#000" stroke-width="1.0"/>
<line x1="75.9" y1="218.2" x2="105.4" y2="241.6" stroke="#000" stroke-width="1.0"/>
<line x1="75.9" y1="219.4" x2="105.4" y2="249.5" stroke="#000" stroke-width="1.0"/>
<line x1="75.9" y1="233.4" x2="105.4" y2="238.7" stroke="#000" stroke-width="1.0"/>
<line x1="75.9" y1="242.3" x2="105.4" y2="236.3" stroke="#000" stroke-width="1.0"/>
<line x1="75.9" y1="213" x2="105.4" y2="246.5" stroke="#000" stroke-width="1.0"/>
<circle cx="75.9" cy="194" r="1.6" fill="#7680c0" stroke="none" stroke-width="0.7"/>
<circle cx="75.9" cy="211.4" r="1.6" fill="#7680c0" stroke="none" stroke-width="0.7"/>
<circle cx="75.9" cy="214.6" r="1.6" fill="#7680c0" stroke="none" stroke-width="0.7"/>
<circle cx="75.9" cy="216.5" r="1.6" fill="#7680c0" stroke="none" stroke-width="0.7"/>
<circle cx="75.9" cy="218.2" r="1.6" fill="#7680c0" stroke="none" stroke-width="0.7"/>
<circle cx="75.9" cy="219.4" r="1.6" fill="#7680c0" stroke="none" stroke-width="0.7"/>
<circle cx="75.9" cy="233.4" r="1.6" fill="#7680c0" stroke="none" stroke-width="0.7"/>
<circle cx="75.9" cy="242.3" r="1.6" fill="#7680c0" stroke="none" stroke-width="0.7"/>
<circle cx="75.9" cy="213" r="1.6" fill="#7680c0" stroke="none" stroke-width="0.7"/>
<circle cx="105.4" cy="253.2" r="2.0" fill="#d0d0d0" stroke="#555" stroke-width="0.75"/>
<circle cx="105.4" cy="247.9" r="2.0" fill="#d0d0d0" stroke="#555" stroke-width="0.75"/>
<circle cx="105.4" cy="251.3" r="2.0" fill="#d0d0d0" stroke="#555" stroke-width="0.75"/>
<circle cx="105.4" cy="244.8" r="2.0" fill="#d0d0d0" stroke="#555" stroke-width="0.75"/>
<circle cx="105.4" cy="241.6" r="2.0" fill="#d0d0d0" stroke="#555" stroke-width="0.75"/>
<circle cx="105.4" cy="249.5" r="2.0" fill="#d0d0d0" stroke="#555" stroke-width="0.75"/>
<circle cx="105.4" cy="238.7" r="2.0" fill="#d0d0d0" stroke="#555" stroke-width="0.75"/>
<circle cx="105.4" cy="236.3" r="2.0" fill="#d0d0d0" stroke="#555" stroke-width="0.75"/>
<circle cx="105.4" cy="246.5" r="2.0" fill="#d0d0d0" stroke="#555" stroke-width="0.75"/>
<text x="73.6" y="277.8" font-size="9.9" text-anchor="middle" font-weight="normal" fill="#231f20" stroke="#231f20" stroke-width="0.2" transform="rotate(-45 73.6 277.8)">Social</text>
<text x="103.1" y="277.8" font-size="9.9" text-anchor="middle" font-weight="normal" fill="#231f20" stroke="#231f20" stroke-width="0.2" transform="rotate(-45 103.1 277.8)">Empty</text>
<text x="90.9" y="163.3" font-size="9.9" text-anchor="middle" font-weight="normal" fill="#231f20" stroke="#231f20" stroke-width="0.2">Pre</text>
<line x1="77.2" y1="174.4" x2="104.9" y2="174.4" stroke="#3a3a3a" stroke-width="1.0"/>
<text x="91.05000000000001" y="176.0" font-size="11.5" text-anchor="middle" font-weight="bold" fill="#231f20" stroke="#231f20" stroke-width="0">**</text>
<text x="31.2" y="214" font-size="10.2" text-anchor="middle" font-weight="normal" fill="#231f20" stroke="#231f20" stroke-width="0.2" transform="rotate(-90 31.2 214)">Time in zone (s)</text>
<rect x="175.6" y="236.4" width="19.6" height="21.099999999999994" fill="#a8aad4" stroke="none" stroke-width="0.8"/>
<rect x="205.7" y="242.1" width="19.8" height="15.400000000000011" fill="none" stroke="#d8d8d8" stroke-width="0.8"/>
<line x1="166.1" y1="175.6" x2="166.1" y2="257.5" stroke="#3a3a3a" stroke-width="1.0"/>
<line x1="161.7" y1="257.5" x2="235.8" y2="257.5" stroke="#3a3a3a" stroke-width="1.0"/>
<line x1="161.7" y1="257.5" x2="166.1" y2="257.5" stroke="#3a3a3a" stroke-width="1.0"/>
<text x="160.2" y="260.4" font-size="10.2" text-anchor="end" font-weight="normal" fill="#231f20" stroke="#231f20" stroke-width="0.2">0</text>
<line x1="161.7" y1="237.025" x2="166.1" y2="237.025" stroke="#3a3a3a" stroke-width="1.0"/>
<text x="160.2" y="239.925" font-size="10.2" text-anchor="end" font-weight="normal" fill="#231f20" stroke="#231f20" stroke-width="0.2">100</text>
<line x1="161.7" y1="216.55" x2="166.1" y2="216.55" stroke="#3a3a3a" stroke-width="1.0"/>
<text x="160.2" y="219.45000000000002" font-size="10.2" text-anchor="end" font-weight="normal" fill="#231f20" stroke="#231f20" stroke-width="0.2">200</text>
<line x1="161.7" y1="196.075" x2="166.1" y2="196.075" stroke="#3a3a3a" stroke-width="1.0"/>
<text x="160.2" y="198.975" font-size="10.2" text-anchor="end" font-weight="normal" fill="#231f20" stroke="#231f20" stroke-width="0.2">300</text>
<line x1="161.7" y1="175.6" x2="166.1" y2="175.6" stroke="#3a3a3a" stroke-width="1.0"/>
<text x="160.2" y="178.5" font-size="10.2" text-anchor="end" font-weight="normal" fill="#231f20" stroke="#231f20" stroke-width="0.2">400</text>
<line x1="185.4" y1="257.5" x2="185.4" y2="261.5" stroke="#3a3a3a" stroke-width="1.1"/>
<line x1="215.6" y1="257.5" x2="215.6" y2="261.5" stroke="#3a3a3a" stroke-width="1.1"/>
<line x1="185.4" y1="228.2" x2="215.6" y2="243.7" stroke="#000" stroke-width="1.0"/>
<line x1="185.4" y1="232.3" x2="215.6" y2="246.8" stroke="#000" stroke-width="1.0"/>
<line x1="185.4" y1="234.4" x2="215.6" y2="242.2" stroke="#000" stroke-width="1.0"/>
<line x1="185.4" y1="236.5" x2="215.6" y2="240.6" stroke="#000" stroke-width="1.0"/>
<line x1="185.4" y1="238.5" x2="215.6" y2="233.9" stroke="#000" stroke-width="1.0"/>
<line x1="185.4" y1="240.6" x2="215.6" y2="234.9" stroke="#000" stroke-width="1.0"/>
<line x1="185.4" y1="243.2" x2="215.6" y2="242.2" stroke="#000" stroke-width="1.0"/>
<line x1="185.4" y1="236" x2="215.6" y2="244" stroke="#000" stroke-width="1.0"/>
<circle cx="185.4" cy="228.2" r="1.6" fill="#7680c0" stroke="none" stroke-width="0.7"/>
<circle cx="185.4" cy="232.3" r="1.6" fill="#7680c0" stroke="none" stroke-width="0.7"/>
<circle cx="185.4" cy="234.4" r="1.6" fill="#7680c0" stroke="none" stroke-width="0.7"/>
<circle cx="185.4" cy="236.5" r="1.6" fill="#7680c0" stroke="none" stroke-width="0.7"/>
<circle cx="185.4" cy="238.5" r="1.6" fill="#7680c0" stroke="none" stroke-width="0.7"/>
<circle cx="185.4" cy="240.6" r="1.6" fill="#7680c0" stroke="none" stroke-width="0.7"/>
<circle cx="185.4" cy="243.2" r="1.6" fill="#7680c0" stroke="none" stroke-width="0.7"/>
<circle cx="185.4" cy="236" r="1.6" fill="#7680c0" stroke="none" stroke-width="0.7"/>
<circle cx="215.6" cy="243.7" r="2.0" fill="#fff" stroke="#555" stroke-width="0.75"/>
<circle cx="215.6" cy="246.8" r="2.0" fill="#fff" stroke="#555" stroke-width="0.75"/>
<circle cx="215.6" cy="242.2" r="2.0" fill="#fff" stroke="#555" stroke-width="0.75"/>
<circle cx="215.6" cy="240.6" r="2.0" fill="#fff" stroke="#555" stroke-width="0.75"/>
<circle cx="215.6" cy="233.9" r="2.0" fill="#fff" stroke="#555" stroke-width="0.75"/>
<circle cx="215.6" cy="234.9" r="2.0" fill="#fff" stroke="#555" stroke-width="0.75"/>
<circle cx="215.6" cy="242.2" r="2.0" fill="#fff" stroke="#555" stroke-width="0.75"/>
<circle cx="215.6" cy="244" r="2.0" fill="#fff" stroke="#555" stroke-width="0.75"/>
<text x="181.4" y="277.1" font-size="9.9" text-anchor="middle" font-weight="normal" fill="#231f20" stroke="#231f20" stroke-width="0.2" transform="rotate(-45 181.4 277.1)">Social</text>
<text x="211.6" y="277.1" font-size="9.9" text-anchor="middle" font-weight="normal" fill="#231f20" stroke="#231f20" stroke-width="0.2" transform="rotate(-45 211.6 277.1)">Empty</text>
<text x="204.3" y="163.3" font-size="9.9" text-anchor="middle" font-weight="normal" fill="#231f20" stroke="#231f20" stroke-width="0.2">Post</text>
<text x="138.5" y="214" font-size="10.2" text-anchor="middle" font-weight="normal" fill="#231f20" stroke="#231f20" stroke-width="0.2" transform="rotate(-90 138.5 214)">Time in zone (s)</text>
<rect x="288.3" y="194.6" width="19.8" height="21.849999999999994" fill="#dcdcdc" stroke="none" stroke-width="0.8"/>
<rect x="317.8" y="209.1" width="19.0" height="7.349999999999994" fill="none" stroke="#6f7cf0" stroke-width="0.9"/>
<line x1="278.5" y1="175.4" x2="278.5" y2="257.5" stroke="#3a3a3a" stroke-width="1.0"/>
<line x1="278.5" y1="257.5" x2="348.0" y2="257.5" stroke="#3a3a3a" stroke-width="1.0"/>
<line x1="278.5" y1="216.45" x2="347.8" y2="216.45" stroke="#111" stroke-width="1.0"/>
<line x1="274.1" y1="175.4" x2="278.5" y2="175.4" stroke="#3a3a3a" stroke-width="1.0"/>
<text x="273.59999999999997" y="178.0" font-size="10.2" text-anchor="end" font-weight="normal" fill="#231f20" stroke="#231f20" stroke-width="0.2">1.0</text>
<line x1="274.1" y1="195.925" x2="278.5" y2="195.925" stroke="#3a3a3a" stroke-width="1.0"/>
<text x="273.59999999999997" y="198.525" font-size="10.2" text-anchor="end" font-weight="normal" fill="#231f20" stroke="#231f20" stroke-width="0.2">0.5</text>
<line x1="274.1" y1="216.45" x2="278.5" y2="216.45" stroke="#3a3a3a" stroke-width="1.0"/>
<text x="273.59999999999997" y="219.04999999999998" font-size="10.2" text-anchor="end" font-weight="normal" fill="#231f20" stroke="#231f20" stroke-width="0.2">0.0</text>
<line x1="274.1" y1="236.975" x2="278.5" y2="236.975" stroke="#3a3a3a" stroke-width="1.0"/>
<text x="273.59999999999997" y="239.575" font-size="10.2" text-anchor="end" font-weight="normal" fill="#231f20" stroke="#231f20" stroke-width="0.2">-0.5</text>
<line x1="274.1" y1="257.5" x2="278.5" y2="257.5" stroke="#3a3a3a" stroke-width="1.0"/>
<text x="273.59999999999997" y="260.1" font-size="10.2" text-anchor="end" font-weight="normal" fill="#231f20" stroke="#231f20" stroke-width="0.2">-1.0</text>
<line x1="298.2" y1="257.5" x2="298.2" y2="261.5" stroke="#3a3a3a" stroke-width="1.1"/>
<line x1="327.3" y1="257.5" x2="327.3" y2="261.5" stroke="#3a3a3a" stroke-width="1.1"/>
<line x1="298.2" y1="183.3" x2="327.3" y2="197.5" stroke="#000" stroke-width="1.0"/>
<line x1="298.2" y1="184.3" x2="327.3" y2="202" stroke="#000" stroke-width="1.0"/>
<line x1="298.2" y1="191.8" x2="327.3" y2="217.6" stroke="#000" stroke-width="1.0"/>
<line x1="298.2" y1="193.9" x2="327.3" y2="207.9" stroke="#000" stroke-width="1.0"/>
<line x1="298.2" y1="197.1" x2="327.3" y2="210.4" stroke="#000" stroke-width="1.0"/>
<line x1="298.2" y1="205" x2="327.3" y2="207.5" stroke="#000" stroke-width="1.0"/>
<line x1="298.2" y1="222.2" x2="327.3" y2="224" stroke="#000" stroke-width="1.0"/>
<circle cx="298.2" cy="183.3" r="1.9" fill="#777777" stroke="none" stroke-width="0.7"/>
<circle cx="298.2" cy="184.3" r="1.9" fill="#777777" stroke="none" stroke-width="0.7"/>
<circle cx="298.2" cy="191.8" r="1.9" fill="#777777" stroke="none" stroke-width="0.7"/>
<circle cx="298.2" cy="193.9" r="1.9" fill="#777777" stroke="none" stroke-width="0.7"/>
<circle cx="298.2" cy="197.1" r="1.9" fill="#777777" stroke="none" stroke-width="0.7"/>
<circle cx="298.2" cy="205" r="1.9" fill="#777777" stroke="none" stroke-width="0.7"/>
<circle cx="298.2" cy="222.2" r="1.9" fill="#777777" stroke="none" stroke-width="0.7"/>
<circle cx="327.3" cy="197.5" r="1.75" fill="none" stroke="#1c20f2" stroke-width="1.1"/>
<circle cx="327.3" cy="202" r="1.75" fill="none" stroke="#1c20f2" stroke-width="1.1"/>
<circle cx="327.3" cy="217.6" r="1.75" fill="none" stroke="#1c20f2" stroke-width="1.1"/>
<circle cx="327.3" cy="207.9" r="1.75" fill="none" stroke="#1c20f2" stroke-width="1.1"/>
<circle cx="327.3" cy="210.4" r="1.75" fill="none" stroke="#1c20f2" stroke-width="1.1"/>
<circle cx="327.3" cy="207.5" r="1.75" fill="none" stroke="#1c20f2" stroke-width="1.1"/>
<circle cx="327.3" cy="224" r="1.75" fill="none" stroke="#1c20f2" stroke-width="1.1"/>
<text x="299.2" y="271.6" font-size="10.1" text-anchor="middle" font-weight="normal" fill="#231f20" stroke="#231f20" stroke-width="0.2">Pre</text>
<text x="328.3" y="271.6" font-size="10.1" text-anchor="middle" font-weight="normal" fill="#231f20" stroke="#231f20" stroke-width="0.2">Post</text>
<line x1="295.8" y1="174.4" x2="327.9" y2="174.4" stroke="#3a3a3a" stroke-width="1.0"/>
<text x="311.85" y="176.0" font-size="11.5" text-anchor="middle" font-weight="bold" fill="#231f20" stroke="#231f20" stroke-width="0">**</text>
<text x="253.0" y="214" font-size="10.2" text-anchor="middle" font-weight="normal" fill="#231f20" stroke="#231f20" stroke-width="0.2" transform="rotate(-90 253.0 214)">Discrimination score</text>
<rect x="404.5" y="227.6" width="19.6" height="29.599999999999994" fill="#a8aad4" stroke="none" stroke-width="0.8"/>
<rect x="434.40000000000003" y="240.6" width="19.8" height="16.6" fill="none" stroke="#d8d8d8" stroke-width="0.8"/>
<line x1="394.6" y1="174.8" x2="394.6" y2="257.2" stroke="#3a3a3a" stroke-width="1.0"/>
<line x1="390.20000000000005" y1="257.2" x2="464.3" y2="257.2" stroke="#3a3a3a" stroke-width="1.0"/>
<line x1="390.20000000000005" y1="257.2" x2="394.6" y2="257.2" stroke="#3a3a3a" stroke-width="1.0"/>
<text x="388.7" y="260.09999999999997" font-size="10.2" text-anchor="end" font-weight="normal" fill="#231f20" stroke="#231f20" stroke-width="0.2">0</text>
<line x1="390.20000000000005" y1="236.6" x2="394.6" y2="236.6" stroke="#3a3a3a" stroke-width="1.0"/>
<text x="388.7" y="239.5" font-size="10.2" text-anchor="end" font-weight="normal" fill="#231f20" stroke="#231f20" stroke-width="0.2">100</text>
<line x1="390.20000000000005" y1="216.0" x2="394.6" y2="216.0" stroke="#3a3a3a" stroke-width="1.0"/>
<text x="388.7" y="218.9" font-size="10.2" text-anchor="end" font-weight="normal" fill="#231f20" stroke="#231f20" stroke-width="0.2">200</text>
<line x1="390.20000000000005" y1="195.4" x2="394.6" y2="195.4" stroke="#3a3a3a" stroke-width="1.0"/>
<text x="388.7" y="198.3" font-size="10.2" text-anchor="end" font-weight="normal" fill="#231f20" stroke="#231f20" stroke-width="0.2">300</text>
<line x1="390.20000000000005" y1="174.8" x2="394.6" y2="174.8" stroke="#3a3a3a" stroke-width="1.0"/>
<text x="388.7" y="177.70000000000002" font-size="10.2" text-anchor="end" font-weight="normal" fill="#231f20" stroke="#231f20" stroke-width="0.2">400</text>
<line x1="414.3" y1="257.2" x2="414.3" y2="261.2" stroke="#3a3a3a" stroke-width="1.1"/>
<line x1="444.3" y1="257.2" x2="444.3" y2="261.2" stroke="#3a3a3a" stroke-width="1.1"/>
<line x1="414.3" y1="217.6" x2="444.3" y2="239" stroke="#000" stroke-width="1.0"/>
<line x1="414.3" y1="224.9" x2="444.3" y2="241.1" stroke="#000" stroke-width="1.0"/>
<line x1="414.3" y1="226.3" x2="444.3" y2="236.9" stroke="#000" stroke-width="1.0"/>
<line x1="414.3" y1="229.1" x2="444.3" y2="243.1" stroke="#000" stroke-width="1.0"/>
<line x1="414.3" y1="231.4" x2="444.3" y2="244.5" stroke="#000" stroke-width="1.0"/>
<line x1="414.3" y1="233.5" x2="444.3" y2="241" stroke="#000" stroke-width="1.0"/>
<line x1="414.3" y1="236.9" x2="444.3" y2="239.5" stroke="#000" stroke-width="1.0"/>
<circle cx="414.3" cy="217.6" r="1.6" fill="#7680c0" stroke="none" stroke-width="0.7"/>
<circle cx="414.3" cy="224.9" r="1.6" fill="#7680c0" stroke="none" stroke-width="0.7"/>
<circle cx="414.3" cy="226.3" r="1.6" fill="#7680c0" stroke="none" stroke-width="0.7"/>
<circle cx="414.3" cy="229.1" r="1.6" fill="#7680c0" stroke="none" stroke-width="0.7"/>
<circle cx="414.3" cy="231.4" r="1.6" fill="#7680c0" stroke="none" stroke-width="0.7"/>
<circle cx="414.3" cy="233.5" r="1.6" fill="#7680c0" stroke="none" stroke-width="0.7"/>
<circle cx="414.3" cy="236.9" r="1.6" fill="#7680c0" stroke="none" stroke-width="0.7"/>
<circle cx="444.3" cy="239" r="2.0" fill="#d0d0d0" stroke="#555" stroke-width="0.75"/>
<circle cx="444.3" cy="241.1" r="2.0" fill="#d0d0d0" stroke="#555" stroke-width="0.75"/>
<circle cx="444.3" cy="236.9" r="2.0" fill="#d0d0d0" stroke="#555" stroke-width="0.75"/>
<circle cx="444.3" cy="243.1" r="2.0" fill="#d0d0d0" stroke="#555" stroke-width="0.75"/>
<circle cx="444.3" cy="244.5" r="2.0" fill="#d0d0d0" stroke="#555" stroke-width="0.75"/>
<circle cx="444.3" cy="241" r="2.0" fill="#d0d0d0" stroke="#555" stroke-width="0.75"/>
<circle cx="444.3" cy="239.5" r="2.0" fill="#d0d0d0" stroke="#555" stroke-width="0.75"/>
<text x="408.8" y="276.1" font-size="9.9" text-anchor="middle" font-weight="normal" fill="#231f20" stroke="#231f20" stroke-width="0.2" transform="rotate(-45 408.8 276.1)">Stranger</text>
<text x="439.5" y="275.6" font-size="9.9" text-anchor="middle" font-weight="normal" fill="#231f20" stroke="#231f20" stroke-width="0.2" transform="rotate(-45 439.5 275.6)">Original</text>
<text x="430.1" y="163.2" font-size="9.9" text-anchor="middle" font-weight="normal" fill="#231f20" stroke="#231f20" stroke-width="0.2">Pre</text>
<line x1="414.1" y1="174.4" x2="446.2" y2="174.4" stroke="#3a3a3a" stroke-width="1.0"/>
<text x="430.15" y="176.0" font-size="11.5" text-anchor="middle" font-weight="bold" fill="#231f20" stroke="#231f20" stroke-width="0">*</text>
<text x="366.5" y="214" font-size="10.2" text-anchor="middle" font-weight="normal" fill="#231f20" stroke="#231f20" stroke-width="0.2" transform="rotate(-90 366.5 214)">Time in zone (s)</text>
<rect x="510.99999999999994" y="246.9" width="19.6" height="10.299999999999983" fill="#a8aad4" stroke="none" stroke-width="0.8"/>
<rect x="539.4" y="238.20000000000002" width="19.8" height="18.99999999999998" fill="none" stroke="#d8d8d8" stroke-width="0.8"/>
<line x1="501.9" y1="177.7" x2="501.9" y2="257.2" stroke="#3a3a3a" stroke-width="1.0"/>
<line x1="497.5" y1="257.2" x2="571.6" y2="257.2" stroke="#3a3a3a" stroke-width="1.0"/>
<line x1="497.5" y1="257.2" x2="501.9" y2="257.2" stroke="#3a3a3a" stroke-width="1.0"/>
<text x="496.9" y="262.09999999999997" font-size="10.2" text-anchor="end" font-weight="normal" fill="#231f20" stroke="#231f20" stroke-width="0.2">0</text>
<line x1="497.5" y1="237.325" x2="501.9" y2="237.325" stroke="#3a3a3a" stroke-width="1.0"/>
<text x="496.9" y="241.725" font-size="10.2" text-anchor="end" font-weight="normal" fill="#231f20" stroke="#231f20" stroke-width="0.2">100</text>
<line x1="497.5" y1="217.45" x2="501.9" y2="217.45" stroke="#3a3a3a" stroke-width="1.0"/>
<text x="496.9" y="221.35" font-size="10.2" text-anchor="end" font-weight="normal" fill="#231f20" stroke="#231f20" stroke-width="0.2">200</text>
<line x1="497.5" y1="197.575" x2="501.9" y2="197.575" stroke="#3a3a3a" stroke-width="1.0"/>
<text x="496.9" y="200.975" font-size="10.2" text-anchor="end" font-weight="normal" fill="#231f20" stroke="#231f20" stroke-width="0.2">300</text>
<line x1="497.5" y1="177.7" x2="501.9" y2="177.7" stroke="#3a3a3a" stroke-width="1.0"/>
<text x="496.9" y="180.6" font-size="10.2" text-anchor="end" font-weight="normal" fill="#231f20" stroke="#231f20" stroke-width="0.2">400</text>
<line x1="520.8" y1="257.2" x2="520.8" y2="261.2" stroke="#3a3a3a" stroke-width="1.1"/>
<line x1="549.3" y1="257.2" x2="549.3" y2="261.2" stroke="#3a3a3a" stroke-width="1.1"/>
<line x1="520.8" y1="238.9" x2="549.3" y2="241.0" stroke="#000" stroke-width="1.0"/>
<line x1="520.8" y1="243.2" x2="549.3" y2="233.0" stroke="#000" stroke-width="1.0"/>
<line x1="520.8" y1="247.7" x2="549.3" y2="234.2" stroke="#000" stroke-width="1.0"/>
<line x1="520.8" y1="249.4" x2="549.3" y2="242.2" stroke="#000" stroke-width="1.0"/>
<line x1="520.8" y1="251.1" x2="549.3" y2="235.4" stroke="#000" stroke-width="1.0"/>
<line x1="520.8" y1="252.8" x2="549.3" y2="241.6" stroke="#000" stroke-width="1.0"/>
<circle cx="520.8" cy="238.9" r="1.6" fill="#7680c0" stroke="none" stroke-width="0.7"/>
<circle cx="520.8" cy="243.2" r="1.6" fill="#7680c0" stroke="none" stroke-width="0.7"/>
<circle cx="520.8" cy="247.7" r="1.6" fill="#7680c0" stroke="none" stroke-width="0.7"/>
<circle cx="520.8" cy="249.4" r="1.6" fill="#7680c0" stroke="none" stroke-width="0.7"/>
<circle cx="520.8" cy="251.1" r="1.6" fill="#7680c0" stroke="none" stroke-width="0.7"/>
<circle cx="520.8" cy="252.8" r="1.6" fill="#7680c0" stroke="none" stroke-width="0.7"/>
<circle cx="549.3" cy="241.0" r="2.0" fill="#fff" stroke="#555" stroke-width="0.75"/>
<circle cx="549.3" cy="233.0" r="2.0" fill="#fff" stroke="#555" stroke-width="0.75"/>
<circle cx="549.3" cy="234.2" r="2.0" fill="#fff" stroke="#555" stroke-width="0.75"/>
<circle cx="549.3" cy="242.2" r="2.0" fill="#fff" stroke="#555" stroke-width="0.75"/>
<circle cx="549.3" cy="235.4" r="2.0" fill="#fff" stroke="#555" stroke-width="0.75"/>
<circle cx="549.3" cy="241.6" r="2.0" fill="#fff" stroke="#555" stroke-width="0.75"/>
<text x="514.4" y="276.8" font-size="9.9" text-anchor="middle" font-weight="normal" fill="#231f20" stroke="#231f20" stroke-width="0.2" transform="rotate(-45 514.4 276.8)">Stranger</text>
<text x="544.9" y="276.3" font-size="9.9" text-anchor="middle" font-weight="normal" fill="#231f20" stroke="#231f20" stroke-width="0.2" transform="rotate(-45 544.9 276.3)">Original</text>
<text x="534.2" y="163.4" font-size="9.9" text-anchor="middle" font-weight="normal" fill="#231f20" stroke="#231f20" stroke-width="0.2">Post</text>
<line x1="520.2" y1="174.4" x2="548.1" y2="174.4" stroke="#3a3a3a" stroke-width="1.0"/>
<text x="534.1500000000001" y="176.0" font-size="11.5" text-anchor="middle" font-weight="bold" fill="#231f20" stroke="#231f20" stroke-width="0">**</text>
<text x="474.4" y="214.8" font-size="10.2" text-anchor="middle" font-weight="normal" fill="#231f20" stroke="#231f20" stroke-width="0.2" transform="rotate(-90 474.4 214.8)">Tme in zone (s)</text>
<rect x="625.1" y="204.4" width="19.8" height="11.75" fill="#dcdcdc" stroke="none" stroke-width="0.8"/>
<rect x="655.2" y="216.15" width="19.0" height="14.549999999999983" fill="none" stroke="#6f7cf0" stroke-width="0.9"/>
<line x1="615.6" y1="175.0" x2="615.6" y2="257.3" stroke="#3a3a3a" stroke-width="1.0"/>
<line x1="615.6" y1="257.3" x2="685.1" y2="257.3" stroke="#3a3a3a" stroke-width="1.0"/>
<line x1="615.6" y1="216.15" x2="684.9" y2="216.15" stroke="#111" stroke-width="1.0"/>
<line x1="611.2" y1="175.0" x2="615.6" y2="175.0" stroke="#3a3a3a" stroke-width="1.0"/>
<text x="607.4" y="177.6" font-size="10.2" text-anchor="end" font-weight="normal" fill="#231f20" stroke="#231f20" stroke-width="0.2">1.0</text>
<line x1="611.2" y1="195.575" x2="615.6" y2="195.575" stroke="#3a3a3a" stroke-width="1.0"/>
<text x="607.4" y="198.17499999999998" font-size="10.2" text-anchor="end" font-weight="normal" fill="#231f20" stroke="#231f20" stroke-width="0.2">0.5</text>
<line x1="611.2" y1="216.15" x2="615.6" y2="216.15" stroke="#3a3a3a" stroke-width="1.0"/>
<text x="607.4" y="218.75" font-size="10.2" text-anchor="end" font-weight="normal" fill="#231f20" stroke="#231f20" stroke-width="0.2">0.0</text>
<line x1="611.2" y1="236.72500000000002" x2="615.6" y2="236.72500000000002" stroke="#3a3a3a" stroke-width="1.0"/>
<text x="607.4" y="239.32500000000002" font-size="10.2" text-anchor="end" font-weight="normal" fill="#231f20" stroke="#231f20" stroke-width="0.2">-0.5</text>
<line x1="611.2" y1="257.3" x2="615.6" y2="257.3" stroke="#3a3a3a" stroke-width="1.0"/>
<text x="607.4" y="259.90000000000003" font-size="10.2" text-anchor="end" font-weight="normal" fill="#231f20" stroke="#231f20" stroke-width="0.2">-1.0</text>
<line x1="635" y1="257.3" x2="635" y2="261.3" stroke="#3a3a3a" stroke-width="1.1"/>
<line x1="664.7" y1="257.3" x2="664.7" y2="261.3" stroke="#3a3a3a" stroke-width="1.1"/>
<line x1="635" y1="196.2" x2="664.7" y2="213.1" stroke="#000" stroke-width="1.0"/>
<line x1="635" y1="198.3" x2="664.7" y2="216.4" stroke="#000" stroke-width="1.0"/>
<line x1="635" y1="201.4" x2="664.7" y2="225.1" stroke="#000" stroke-width="1.0"/>
<line x1="635" y1="203" x2="664.7" y2="220" stroke="#000" stroke-width="1.0"/>
<line x1="635" y1="204.5" x2="664.7" y2="228.2" stroke="#000" stroke-width="1.0"/>
<line x1="635" y1="207.6" x2="664.7" y2="235.5" stroke="#000" stroke-width="1.0"/>
<line x1="635" y1="209" x2="664.7" y2="243.7" stroke="#000" stroke-width="1.0"/>
<line x1="635" y1="210.7" x2="664.7" y2="245.8" stroke="#000" stroke-width="1.0"/>
<circle cx="635" cy="196.2" r="1.9" fill="#777777" stroke="none" stroke-width="0.7"/>
<circle cx="635" cy="198.3" r="1.9" fill="#777777" stroke="none" stroke-width="0.7"/>
<circle cx="635" cy="201.4" r="1.9" fill="#777777" stroke="none" stroke-width="0.7"/>
<circle cx="635" cy="203" r="1.9" fill="#777777" stroke="none" stroke-width="0.7"/>
<circle cx="635" cy="204.5" r="1.9" fill="#777777" stroke="none" stroke-width="0.7"/>
<circle cx="635" cy="207.6" r="1.9" fill="#777777" stroke="none" stroke-width="0.7"/>
<circle cx="635" cy="209" r="1.9" fill="#777777" stroke="none" stroke-width="0.7"/>
<circle cx="635" cy="210.7" r="1.9" fill="#777777" stroke="none" stroke-width="0.7"/>
<circle cx="664.7" cy="213.1" r="1.75" fill="none" stroke="#1c20f2" stroke-width="1.1"/>
<circle cx="664.7" cy="216.4" r="1.75" fill="none" stroke="#1c20f2" stroke-width="1.1"/>
<circle cx="664.7" cy="225.1" r="1.75" fill="none" stroke="#1c20f2" stroke-width="1.1"/>
<circle cx="664.7" cy="220" r="1.75" fill="none" stroke="#1c20f2" stroke-width="1.1"/>
<circle cx="664.7" cy="228.2" r="1.75" fill="none" stroke="#1c20f2" stroke-width="1.1"/>
<circle cx="664.7" cy="235.5" r="1.75" fill="none" stroke="#1c20f2" stroke-width="1.1"/>
<circle cx="664.7" cy="243.7" r="1.75" fill="none" stroke="#1c20f2" stroke-width="1.1"/>
<circle cx="664.7" cy="245.8" r="1.75" fill="none" stroke="#1c20f2" stroke-width="1.1"/>
<text x="636" y="271.40000000000003" font-size="10.1" text-anchor="middle" font-weight="normal" fill="#231f20" stroke="#231f20" stroke-width="0.2">Pre</text>
<text x="665.7" y="271.40000000000003" font-size="10.1" text-anchor="middle" font-weight="normal" fill="#231f20" stroke="#231f20" stroke-width="0.2">Post</text>
<line x1="634.1" y1="174.4" x2="666.9" y2="174.4" stroke="#3a3a3a" stroke-width="1.0"/>
<text x="650.5" y="176.0" font-size="11.5" text-anchor="middle" font-weight="bold" fill="#231f20" stroke="#231f20" stroke-width="0">***</text>
<text x="587.9" y="214.8" font-size="10.2" text-anchor="middle" font-weight="normal" fill="#231f20" stroke="#231f20" stroke-width="0.2" transform="rotate(-90 587.9 214.8)">Discrimination score</text>
</svg>
</body></html>
